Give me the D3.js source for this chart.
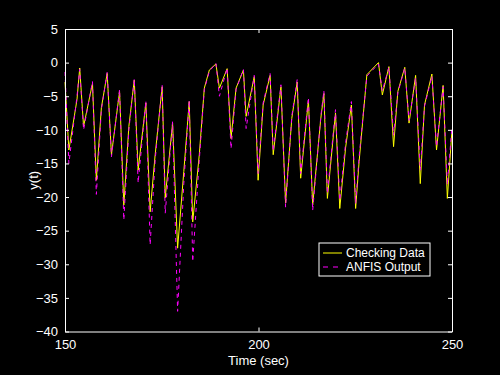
<!DOCTYPE html>
<html>
<meta charset="utf-8">
<head>
    <script src="https://d3js.org/d3.v7.min.js"></script>
    <style>
        body { margin: 0; background: #000; }
        text { font-family: "Liberation Sans", Arial, sans-serif; fill: #fff; }
    </style>
</head>
<body>
    <script>
        // time points (sec) read at the vertices of the curve
        var time = [150.0, 151.0, 153.1, 153.8, 154.8, 157.1, 158.1, 159.4, 160.9, 162.0,
                    164.1, 165.2, 166.5, 167.9, 168.9, 170.9, 172.0, 173.3, 175.1, 175.9,
                    177.8, 179.1, 180.7, 182.1, 183.0, 184.7, 186.0, 187.3, 189.0, 189.9,
                    191.9, 192.9, 194.2, 196.1, 196.8, 198.9, 199.9, 201.2, 203.0, 203.8,
                    205.8, 207.0, 208.6, 210.0, 210.9, 212.9, 214.0, 216.1, 216.9, 217.8,
                    219.9, 221.0, 222.5, 224.0, 225.1, 226.0, 228.0, 231.0, 232.0, 233.7,
                    234.9, 236.0, 237.8, 238.9, 240.6, 241.8, 242.9, 244.8, 246.0, 247.7,
                    248.8, 250.0];

        var checking = [-2.9, -13.0, -5.5, -0.8, -9.5, -3.1, -17.5, -6.7, -1.6, -13.7,
                        -4.3, -21.2, -9.5, -2.6, -16.0, -6.0, -22.2, -13.7, -3.6, -20.1,
                        -9.0, -27.6, -16.2, -5.8, -23.7, -13.7, -3.8, -1.1, -0.2, -3.8,
                        -0.9, -11.3, -3.8, -1.1, -8.0, -2.1, -17.5, -6.3, -1.9, -13.7,
                        -3.6, -20.9, -8.3, -2.9, -17.2, -5.6, -21.2, -8.3, -4.6, -20.2,
                        -7.5, -21.7, -12.7, -6.3, -21.7, -14.7, -1.8, 0.0, -4.8, -0.6,
                        -12.5, -4.3, -0.7, -9.0, -1.9, -18.0, -6.3, -1.7, -13.0, -3.4,
                        -20.2, -10.0];

        var anfis = [-1.4, -15.0, -5.0, -1.0, -10.0, -2.8, -19.6, -7.0, -1.4, -14.0,
                     -4.0, -23.4, -10.0, -2.4, -17.9, -5.7, -27.1, -14.5, -3.3, -22.4,
                     -8.8, -37.0, -18.0, -5.6, -29.6, -14.5, -4.0, -1.3, -0.1, -5.0,
                     -0.8, -12.8, -4.0, -1.0, -9.8, -1.9, -16.5, -6.0, -1.6, -13.2,
                     -3.3, -21.5, -8.0, -2.5, -16.5, -5.2, -22.0, -8.0, -4.2, -19.5,
                     -7.0, -20.5, -12.0, -5.8, -21.0, -14.0, -2.0, -0.2, -4.2, -0.7,
                     -10.8, -4.5, -0.8, -8.6, -2.3, -16.0, -6.5, -2.0, -12.5, -3.6,
                     -18.2, -9.5];

        var xTicks = [150, 200, 250];
        var yTicks = [5, 0, -5, -10, -15, -20, -25, -30, -35, -40];

        var width = 500, height = 375;
        var margin = {left: 65, right: 48, top: 29, bottom: 43.5};

        var svg = d3.select("body").append("svg")
            .attr("width", width)
            .attr("height", height);

        svg.append("rect")
            .attr("width", width).attr("height", height)
            .attr("fill", "#000");

        var x = d3.scaleLinear()
            .domain([150, 250])
            .range([margin.left, width - margin.right]);

        var y = d3.scaleLinear()
            .domain([-40, 5])
            .range([height - margin.bottom, margin.top]);

        var pts = time.map(function(t, i) {
            return {t: t, c: checking[i], a: anfis[i]};
        });

        var lineC = d3.line().x(function(d) { return x(d.t); }).y(function(d) { return y(d.c); });
        var lineA = d3.line().x(function(d) { return x(d.t); }).y(function(d) { return y(d.a); });

        svg.append("path")
            .datum(pts)
            .attr("d", lineC)
            .attr("fill", "none")
            .attr("stroke", "#ffff00")
            .attr("stroke-width", 1);

        svg.append("path")
            .datum(pts)
            .attr("d", lineA)
            .attr("fill", "none")
            .attr("stroke", "#ff00ff")
            .attr("stroke-width", 1)
            .attr("stroke-dasharray", "4,4");

        // axes box with inward ticks
        var tickLen = 4;
        var g = svg.append("g");

        g.append("g")
            .attr("transform", "translate(0," + y(-40) + ")")
            .call(d3.axisBottom(x).tickValues(xTicks).tickSizeInner(-tickLen).tickSizeOuter(0).tickPadding(8));
        g.append("g")
            .attr("transform", "translate(0," + y(5) + ")")
            .call(d3.axisTop(x).tickValues(xTicks).tickSizeInner(-tickLen).tickSizeOuter(0).tickFormat(""));
        g.append("g")
            .attr("transform", "translate(" + x(150) + ",0)")
            .call(d3.axisLeft(y).tickValues(yTicks).tickSizeInner(-tickLen).tickSizeOuter(0).tickPadding(7));
        g.append("g")
            .attr("transform", "translate(" + x(250) + ",0)")
            .call(d3.axisRight(y).tickValues(yTicks).tickSizeInner(-tickLen).tickSizeOuter(0).tickFormat(""));

        g.selectAll(".domain").attr("stroke", "#fff");
        g.selectAll(".tick line").attr("stroke", "#fff");
        g.selectAll(".tick text")
            .attr("fill", "#fff")
            .style("font-size", "13px")
            .style("font-family", "'Liberation Sans', Arial, sans-serif");

        svg.append("text")
            .attr("x", x(200))
            .attr("y", 365)
            .attr("text-anchor", "middle")
            .style("font-size", "13px")
            .text("Time (sec)");

        svg.append("text")
            .attr("transform", "translate(38," + y(-17.5) + ") rotate(-90)")
            .attr("text-anchor", "middle")
            .style("font-size", "13px")
            .text("y(t)");

        // legend
        var leg = svg.append("g").attr("transform", "translate(319,243)");
        leg.append("rect")
            .attr("width", 111).attr("height", 33)
            .attr("fill", "#000").attr("stroke", "#fff");
        leg.append("line")
            .attr("x1", 4).attr("x2", 23).attr("y1", 10).attr("y2", 10)
            .attr("stroke", "#ffff00");
        leg.append("line")
            .attr("x1", 4).attr("x2", 23).attr("y1", 24).attr("y2", 24)
            .attr("stroke", "#ff00ff").attr("stroke-dasharray", "5,5");
        leg.append("text").attr("x", 27).attr("y", 14)
            .style("font-size", "12px").text("Checking Data");
        leg.append("text").attr("x", 27).attr("y", 28)
            .style("font-size", "12px").text("ANFIS Output");
    </script>
</body>
</html>
